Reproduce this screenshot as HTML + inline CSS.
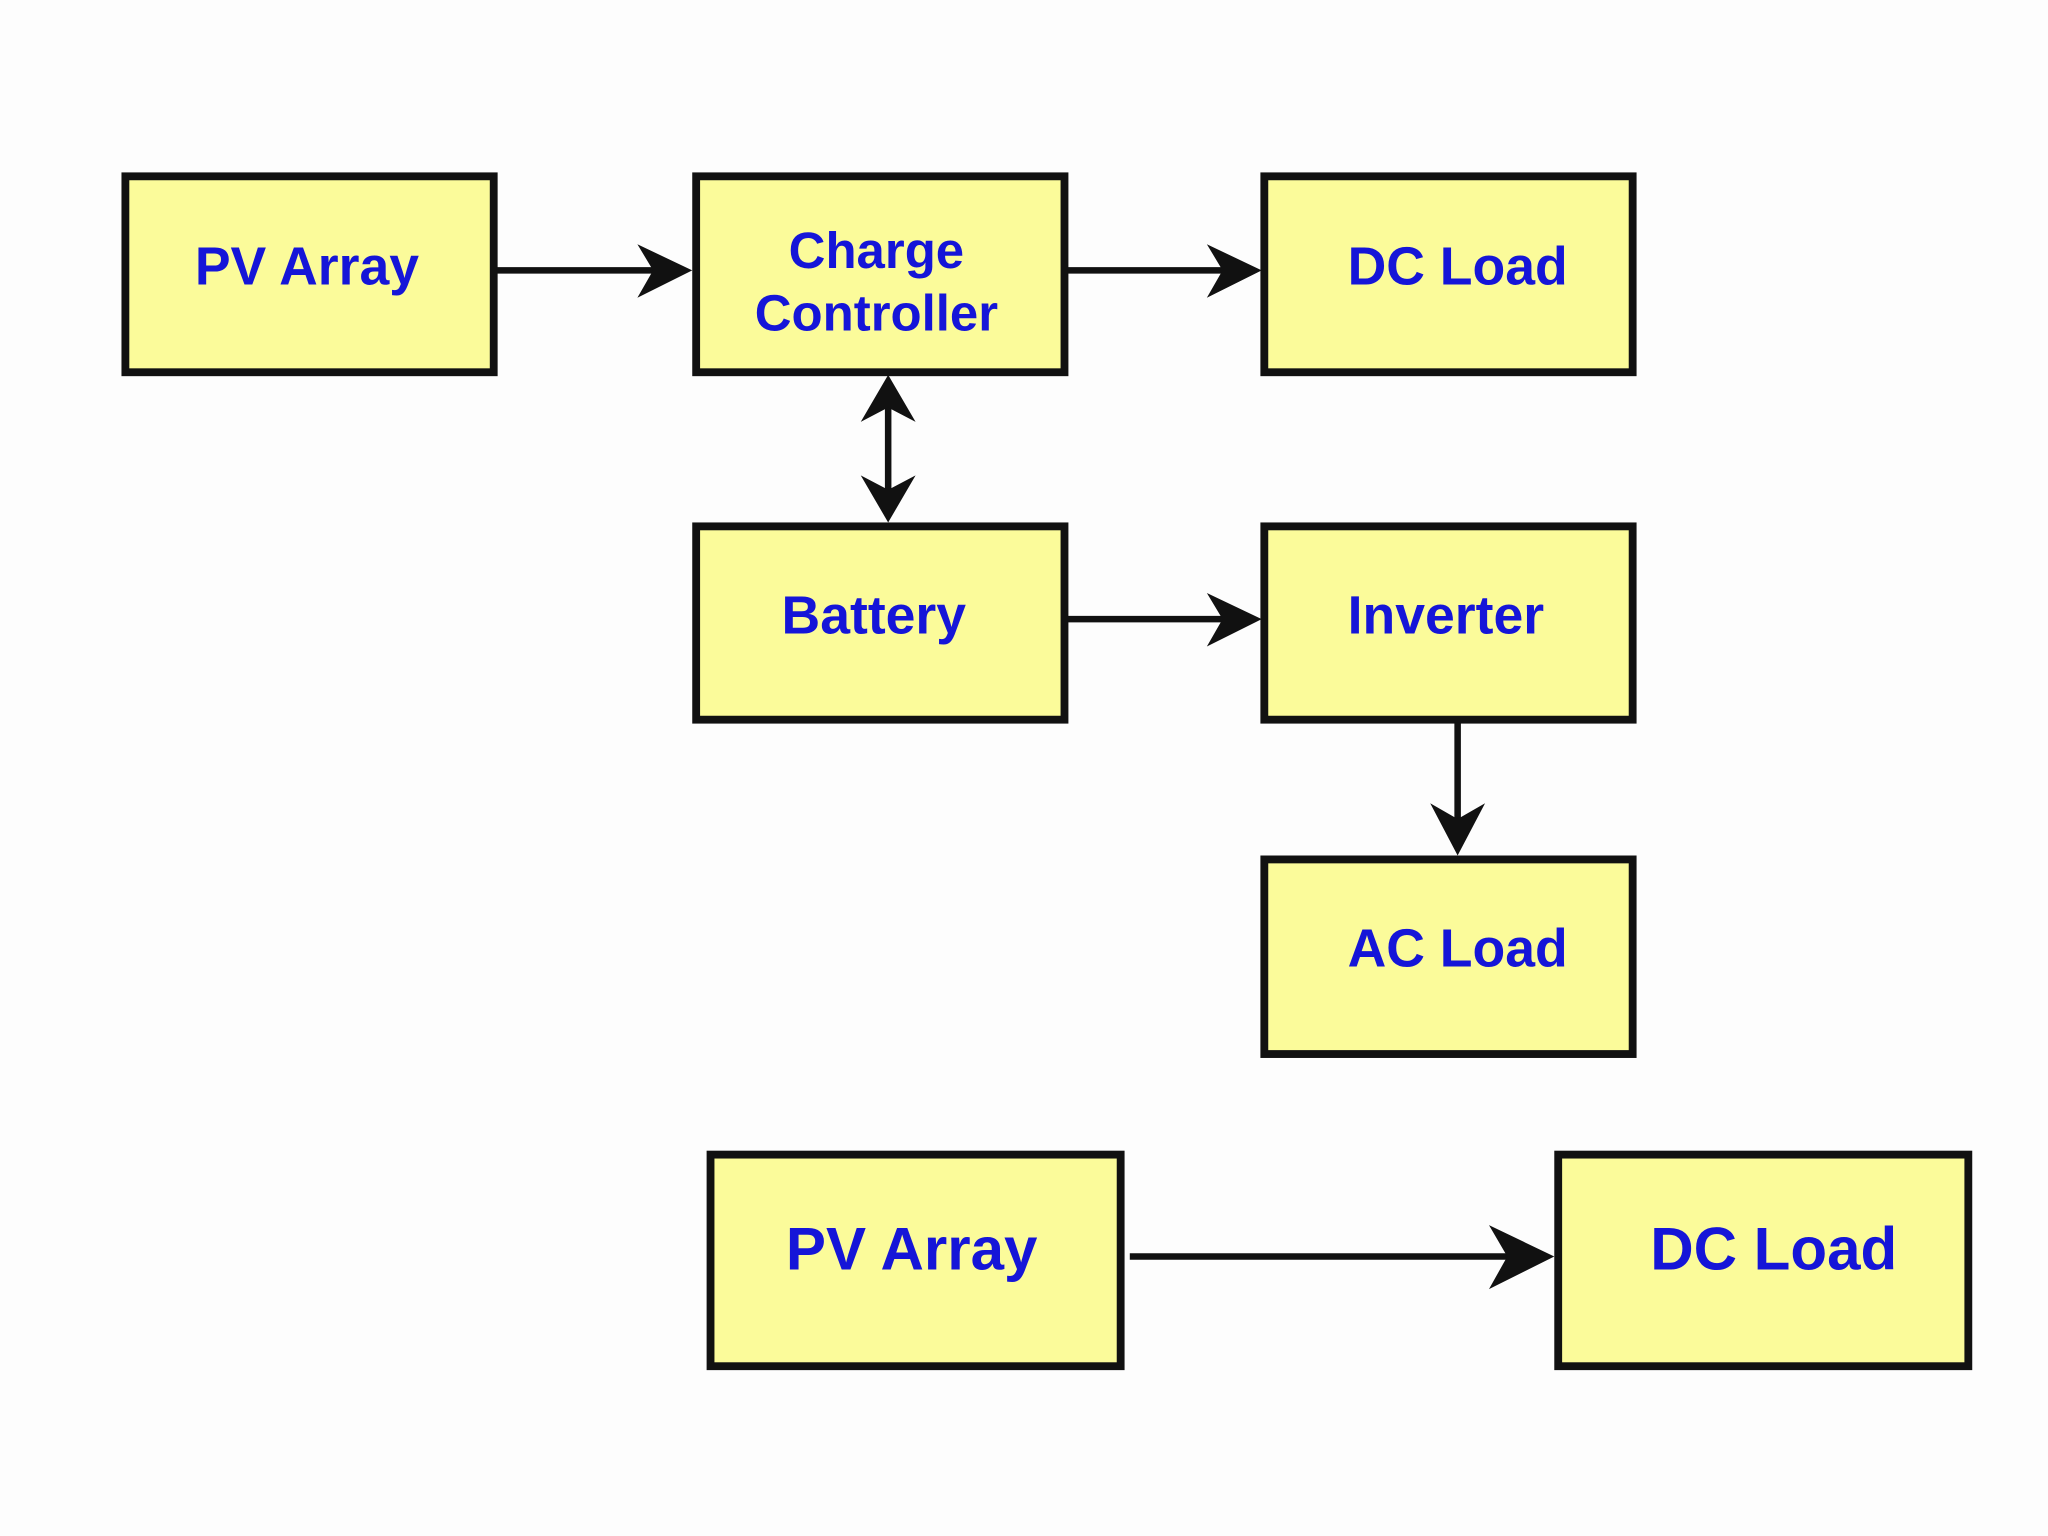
<!DOCTYPE html>
<html><head><meta charset="utf-8"><style>
html,body{margin:0;padding:0;background:#fdfdfd;}
svg{display:block;}
text{font-family:"Liberation Sans",Arial,sans-serif;font-weight:bold;fill:#1515d8;text-anchor:middle;}
</style></head><body>
<svg width="2048" height="1536" viewBox="0 0 1568 1176" xmlns="http://www.w3.org/2000/svg">
<rect width="1568" height="1176" fill="#fdfdfd"/>
<g fill="#fbfb9a" stroke="#111" stroke-width="6">
<rect x="96" y="135" width="282" height="150"/>
<rect x="533" y="135" width="282" height="150"/>
<rect x="968" y="135" width="282" height="150"/>
<rect x="533" y="403" width="282" height="148"/>
<rect x="968" y="403" width="282" height="148"/>
<rect x="968" y="658" width="282" height="149"/>
<rect x="544" y="884" width="314" height="162"/>
<rect x="1193" y="884" width="314" height="162"/>
</g>
<g stroke="#111" stroke-width="5" fill="none">
<line x1="380" y1="207" x2="520" y2="207"/>
<line x1="817" y1="207" x2="958" y2="207"/>
<line x1="817" y1="474" x2="958" y2="474"/>
<line x1="680" y1="295" x2="680" y2="392"/>
<line x1="1116" y1="553" x2="1116" y2="645"/>
<line x1="865" y1="962" x2="1180" y2="962"/>
</g>
<g fill="#111">
<polygon points="530,207 488,187 500,207 488,228"/>
<polygon points="966,207 924,187 936,207 924,228"/>
<polygon points="966,474 924,454 936,474 924,495"/>
<polygon points="680,287 659,323 680,312 701,323"/>
<polygon points="680,400 659,364 680,375 701,364"/>
<polygon points="1116,655 1095,615 1116,627 1137,615"/>
<polygon points="1190,962 1140,938 1154,962 1140,987"/>
</g>
<text x="235" y="218" font-size="41">PV Array</text>
<text x="671" y="205" font-size="39">Charge</text>
<text x="671" y="253" font-size="39">Controller</text>
<text x="1116" y="218" font-size="41">DC Load</text>
<text x="669" y="485" font-size="41">Battery</text>
<text x="1107" y="485" font-size="41">Inverter</text>
<text x="1116" y="740" font-size="41">AC Load</text>
<text x="698" y="972" font-size="46">PV Array</text>
<text x="1358" y="972" font-size="46">DC Load</text>
</svg>
</body></html>
